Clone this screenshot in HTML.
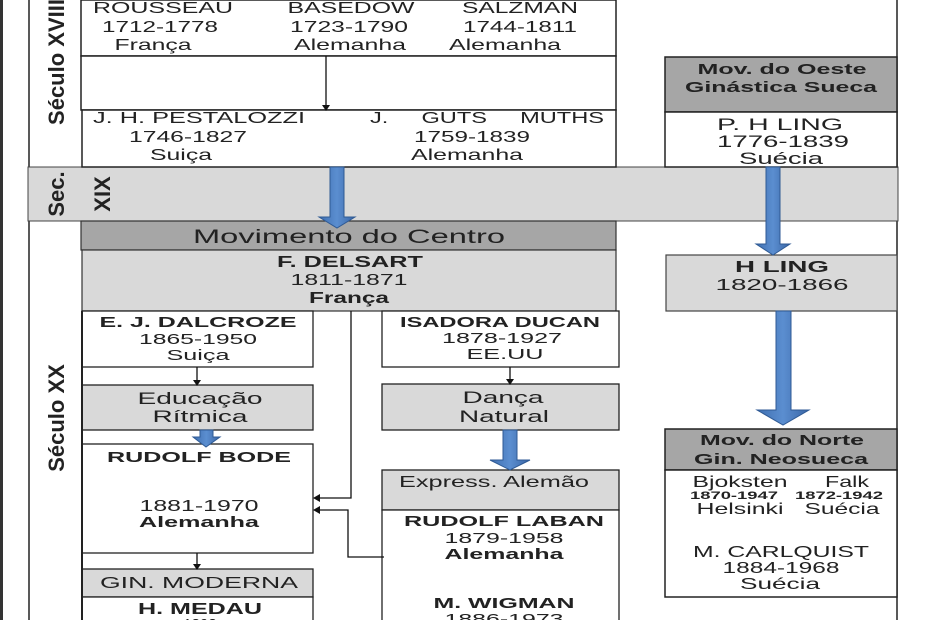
<!DOCTYPE html>
<html><head><meta charset="utf-8"><style>
html,body{margin:0;padding:0;background:#fff;}
svg{display:block;font-family:"Liberation Sans",sans-serif;}
</style></head><body>
<svg width="930" height="620" viewBox="0 0 930 620" xmlns="http://www.w3.org/2000/svg">
<defs>
<linearGradient id="bl" x1="0" x2="1"><stop offset="0" stop-color="#3f6fb0"/><stop offset="0.5" stop-color="#5b8ed0"/><stop offset="1" stop-color="#3a66a6"/></linearGradient>
</defs>
<rect x="0" y="0" width="3" height="620" fill="#333"/>
<g stroke="#222" stroke-width="1.5" fill="none">
<line x1="29" y1="0" x2="29" y2="167"/>
<line x1="29" y1="221" x2="29" y2="620"/>
<line x1="897" y1="0" x2="897" y2="620"/>
</g>
<rect x="28" y="167" width="870" height="54" fill="#d9d9d9" stroke="#444" stroke-width="1"/>
<g stroke="#222" stroke-width="1.5">
<rect x="81" y="0" width="535" height="56" fill="#fff"/>
<rect x="81" y="56" width="535" height="54" fill="#fff"/>
<rect x="82" y="110" width="534" height="57" fill="#fff"/>
</g>
<line x1="326" y1="56" x2="326" y2="106" stroke="#111" stroke-width="1.3"/>
<polygon points="322,105 330,105 326,111" fill="#111"/>
<g font-size="16" fill="#222" text-anchor="middle" lengthAdjust="spacingAndGlyphs">
<text x="163" y="13" textLength="140" lengthAdjust="spacingAndGlyphs">ROUSSEAU</text>
<text x="160" y="32" textLength="116" lengthAdjust="spacingAndGlyphs">1712-1778</text>
<text x="153" y="50" textLength="77" lengthAdjust="spacingAndGlyphs">França</text>
<text x="351" y="13" textLength="127" lengthAdjust="spacingAndGlyphs">BASEDOW</text>
<text x="349" y="32" textLength="118" lengthAdjust="spacingAndGlyphs">1723-1790</text>
<text x="350" y="50" textLength="112" lengthAdjust="spacingAndGlyphs">Alemanha</text>
<text x="520" y="13" textLength="116" lengthAdjust="spacingAndGlyphs">SALZMAN</text>
<text x="520" y="32" textLength="114" lengthAdjust="spacingAndGlyphs">1744-1811</text>
<text x="505" y="50" textLength="112" lengthAdjust="spacingAndGlyphs">Alemanha</text>
<text x="199" y="123" textLength="212" lengthAdjust="spacingAndGlyphs">J. H. PESTALOZZI</text>
<text x="188" y="142" textLength="118" lengthAdjust="spacingAndGlyphs">1746-1827</text>
<text x="181" y="160" textLength="62" lengthAdjust="spacingAndGlyphs">Suiça</text>
<text x="487" y="123" textLength="234" lengthAdjust="spacingAndGlyphs" word-spacing="18">J. GUTS MUTHS</text>
<text x="472" y="142" textLength="116" lengthAdjust="spacingAndGlyphs">1759-1839</text>
<text x="467" y="160" textLength="112" lengthAdjust="spacingAndGlyphs">Alemanha</text>
</g>
<rect x="665" y="57" width="232" height="55" fill="#a6a6a6" stroke="#222" stroke-width="1.5"/>
<rect x="665" y="112" width="232" height="55" fill="#fff" stroke="#222" stroke-width="1.5"/>
<g fill="#222" text-anchor="middle">
<text x="782" y="74" font-size="15" font-weight="bold" textLength="169" lengthAdjust="spacingAndGlyphs">Mov. do Oeste</text>
<text x="781" y="92" font-size="15" font-weight="bold" textLength="192" lengthAdjust="spacingAndGlyphs">Ginástica Sueca</text>
<text x="780" y="130" font-size="17" textLength="126" lengthAdjust="spacingAndGlyphs">P. H LING</text>
<text x="783" y="147" font-size="17" textLength="132" lengthAdjust="spacingAndGlyphs">1776-1839</text>
<text x="781" y="164" font-size="17" textLength="84" lengthAdjust="spacingAndGlyphs">Suécia</text>
</g>
<rect x="81" y="221" width="535" height="29" fill="#a6a6a6" stroke="#333" stroke-width="1.2"/>
<rect x="82" y="250" width="534" height="61" fill="#d9d9d9" stroke="#333" stroke-width="1.2"/>
<g fill="#222" text-anchor="middle">
<text x="349" y="243" font-size="19" textLength="312" lengthAdjust="spacingAndGlyphs">Movimento do Centro</text>
<text x="350" y="267" font-size="16" font-weight="bold" textLength="146" lengthAdjust="spacingAndGlyphs">F. DELSART</text>
<text x="349" y="285" font-size="16" textLength="117" lengthAdjust="spacingAndGlyphs">1811-1871</text>
<text x="349" y="303" font-size="16" font-weight="bold" textLength="80" lengthAdjust="spacingAndGlyphs">França</text>
</g>
<g stroke="#222" stroke-width="1.3" fill="#fff">
<rect x="82" y="311" width="231" height="56"/>
<rect x="382" y="311" width="237" height="56"/>
<rect x="82" y="385" width="231" height="45" fill="#d9d9d9"/>
<rect x="382" y="384" width="237" height="46" fill="#d9d9d9"/>
<rect x="82" y="444" width="231" height="109"/>
<rect x="382" y="470" width="237" height="40" fill="#d9d9d9"/>
<rect x="382" y="510" width="237" height="115"/>
<rect x="82" y="569" width="231" height="28" fill="#d9d9d9"/>
<rect x="82" y="597" width="231" height="30"/>
</g>
<line x1="82" y1="311" x2="82" y2="620" stroke="#222" stroke-width="2"/>
<g fill="#222" text-anchor="middle">
<text x="198" y="327" font-size="15" font-weight="bold" textLength="197" lengthAdjust="spacingAndGlyphs">E. J. DALCROZE</text>
<text x="198" y="344" font-size="15" textLength="118" lengthAdjust="spacingAndGlyphs">1865-1950</text>
<text x="198" y="360" font-size="15" textLength="63" lengthAdjust="spacingAndGlyphs">Suiça</text>
<text x="500" y="327" font-size="15" font-weight="bold" textLength="200" lengthAdjust="spacingAndGlyphs">ISADORA DUCAN</text>
<text x="502" y="343" font-size="15" textLength="120" lengthAdjust="spacingAndGlyphs">1878-1927</text>
<text x="505" y="359" font-size="15" textLength="77" lengthAdjust="spacingAndGlyphs">EE.UU</text>
<text x="200" y="404" font-size="17" textLength="125" lengthAdjust="spacingAndGlyphs">Educação</text>
<text x="200" y="422" font-size="17" textLength="95" lengthAdjust="spacingAndGlyphs">Rítmica</text>
<text x="503" y="403" font-size="17" textLength="81" lengthAdjust="spacingAndGlyphs">Dança</text>
<text x="504" y="422" font-size="17" textLength="90" lengthAdjust="spacingAndGlyphs">Natural</text>
<text x="199" y="462" font-size="15" font-weight="bold" textLength="184" lengthAdjust="spacingAndGlyphs">RUDOLF BODE</text>
<text x="199" y="511" font-size="16" textLength="119" lengthAdjust="spacingAndGlyphs">1881-1970</text>
<text x="199" y="527" font-size="15" font-weight="bold" textLength="120" lengthAdjust="spacingAndGlyphs">Alemanha</text>
<text x="494" y="487" font-size="16" textLength="190" lengthAdjust="spacingAndGlyphs">Express. Alemão</text>
<text x="504" y="526" font-size="15" font-weight="bold" textLength="200" lengthAdjust="spacingAndGlyphs">RUDOLF LABAN</text>
<text x="504" y="543" font-size="15" textLength="119" lengthAdjust="spacingAndGlyphs">1879-1958</text>
<text x="504" y="559" font-size="15" font-weight="bold" textLength="119" lengthAdjust="spacingAndGlyphs">Alemanha</text>
<text x="504" y="608" font-size="15" font-weight="bold" textLength="141" lengthAdjust="spacingAndGlyphs">M. WIGMAN</text>
<text x="504" y="624" font-size="15" textLength="119" lengthAdjust="spacingAndGlyphs">1886-1973</text>
<text x="199" y="588" font-size="16" textLength="198" lengthAdjust="spacingAndGlyphs">GIN. MODERNA</text>
<text x="200" y="614" font-size="16" font-weight="bold" textLength="124" lengthAdjust="spacingAndGlyphs">H. MEDAU</text>
<text x="200" y="629" font-size="15">1893</text>
</g>
<g stroke="#111" stroke-width="1.3" fill="none">
<line x1="197" y1="367" x2="197" y2="381"/>
<line x1="510" y1="367" x2="510" y2="380"/>
<polyline points="351,311 351,498 319,498"/>
<polyline points="384,557 348,557 348,510 319,510"/>
<line x1="197" y1="553" x2="197" y2="565"/>
</g>
<g fill="#111">
<polygon points="193,380 201,380 197,386"/>
<polygon points="506,379 514,379 510,385"/>
<polygon points="313,498 320,494 320,502"/>
<polygon points="313,510 320,506 320,514"/>
<polygon points="193,564 201,564 197,570"/>
</g>
<rect x="666" y="255" width="231" height="56" fill="#d9d9d9" stroke="#444" stroke-width="1.2"/>
<rect x="665" y="429" width="232" height="41" fill="#a6a6a6" stroke="#222" stroke-width="1.5"/>
<rect x="665" y="470" width="232" height="127" fill="#fff" stroke="#222" stroke-width="1.5"/>
<g fill="#222" text-anchor="middle">
<text x="782" y="272" font-size="16" font-weight="bold" textLength="94" lengthAdjust="spacingAndGlyphs">H LING</text>
<text x="782" y="290" font-size="16" textLength="133" lengthAdjust="spacingAndGlyphs">1820-1866</text>
<text x="782" y="445" font-size="15" font-weight="bold" textLength="164" lengthAdjust="spacingAndGlyphs">Mov. do Norte</text>
<text x="781" y="464" font-size="15" font-weight="bold" textLength="174" lengthAdjust="spacingAndGlyphs">Gin. Neosueca</text>
<text x="740" y="487" font-size="16" textLength="95" lengthAdjust="spacingAndGlyphs">Bjoksten</text>
<text x="847" y="487" font-size="16" textLength="44" lengthAdjust="spacingAndGlyphs">Falk</text>
<text x="734" y="499" font-size="11" font-weight="bold" textLength="88" lengthAdjust="spacingAndGlyphs">1870-1947</text>
<text x="839" y="499" font-size="11" font-weight="bold" textLength="88" lengthAdjust="spacingAndGlyphs">1872-1942</text>
<text x="740" y="514" font-size="16" textLength="87" lengthAdjust="spacingAndGlyphs">Helsinki</text>
<text x="842" y="514" font-size="16" textLength="75" lengthAdjust="spacingAndGlyphs">Suécia</text>
<text x="781" y="557" font-size="16" textLength="176" lengthAdjust="spacingAndGlyphs">M. CARLQUIST</text>
<text x="781" y="573" font-size="16" textLength="117" lengthAdjust="spacingAndGlyphs">1884-1968</text>
<text x="780" y="589" font-size="16" textLength="80" lengthAdjust="spacingAndGlyphs">Suécia</text>
</g>
<g fill="url(#bl)" stroke="#2f5a94" stroke-width="1">
<polygon points="330,167 344,167 344,217 355,217 337,228 319,217 330,217"/>
<polygon points="766,167 780,167 780,244 790,244 773,255 756,244 766,244"/>
<polygon points="776,311 791,311 791,410 809,410 783,425 757,410 776,410"/>
<polygon points="200,430 213,430 213,437 220,437 206,447 193,437 200,437"/>
<polygon points="503,430 517,430 517,460 530,460 510,470 490,460 503,460"/>
</g>
<g fill="#222" font-weight="bold" text-anchor="middle">
<text transform="translate(64,62) rotate(-90)" font-size="22">Século XVIII</text>
<text transform="translate(64,194) rotate(-90)" font-size="22">Sec.</text>
<text transform="translate(110,194) rotate(-90)" font-size="22">XIX</text>
<text transform="translate(64,418) rotate(-90)" font-size="22">Século XX</text>
</g>
</svg>
</body></html>
